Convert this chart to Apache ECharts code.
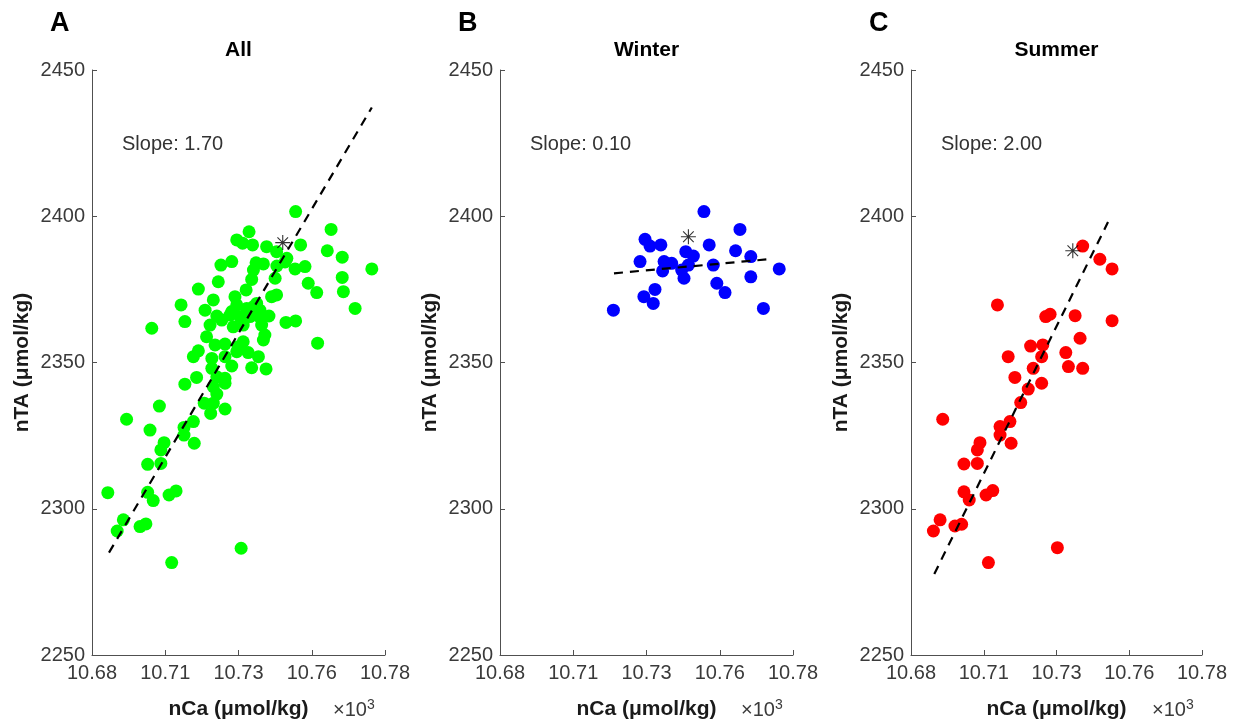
<!DOCTYPE html>
<html>
<head>
<meta charset="utf-8">
<script src="https://cdn.jsdelivr.net/npm/echarts@6/dist/echarts.min.js"></script>
<style>
html,body{margin:0;padding:0;background:#fff;}
#chart{width:1240px;height:724px;}
</style>
</head>
<body>
<div id="chart"></div>
<script>
// ---------- DATA ----------
const panelLetters = ['A', 'B', 'C'];
const panelTitles = ['All', 'Winter', 'Summer'];
const slopeLabels = ['Slope: 1.70', 'Slope: 0.10', 'Slope: 2.00'];
const xName = 'nCa (μmol/kg)';
const yName = 'nTA (μmol/kg)';
const xMin = 10680, xMax = 10780, xStep = 25;
const yMin = 2250, yMax = 2450, yStep = 50;

// Panel A: all samples [nCa, nTA]
const allPoints = [
  [10749.5,2401.6],[10761.6,2395.5],[10733.6,2394.7],[10729.4,2391.9],[10731.4,2390.8],
  [10734.8,2390.2],[10739.6,2389.6],[10743.0,2387.9],[10751.2,2390.2],[10760.3,2388.2],
  [10765.4,2386.0],[10775.5,2382.0],[10765.4,2379.1],[10765.8,2374.2],[10769.8,2368.5],
  [10757.0,2356.6],[10753.8,2377.1],[10756.7,2373.9],[10749.3,2382.0],[10752.7,2382.8],
  [10746.2,2363.7],[10749.5,2364.2],[10724.0,2383.3],[10727.7,2384.5],[10736.0,2384.1],
  [10738.5,2383.7],[10735.1,2381.6],[10734.5,2378.4],[10742.5,2378.8],[10723.1,2377.6],
  [10716.3,2375.1],[10732.6,2374.8],[10741.3,2372.5],[10743.0,2373.1],[10721.4,2371.4],
  [10710.4,2369.7],[10718.6,2367.9],[10728.8,2372.5],[10736.2,2370.2],[10729.4,2369.7],
  [10732.8,2368.5],[10722.6,2365.9],[10727.1,2366.2],[10730.5,2365.7],[10740.4,2365.9],
  [10737.3,2365.5],[10700.4,2361.7],[10711.7,2364.0],[10720.3,2362.8],[10724.3,2364.5],
  [10728.2,2362.2],[10737.9,2362.8],[10719.1,2358.8],[10731.6,2357.1],[10739.0,2359.4],
  [10738.5,2357.7],[10722.0,2356.0],[10725.4,2356.3],[10729.9,2355.4],[10716.3,2354.0],
  [10714.6,2352.0],[10720.9,2351.4],[10733.3,2353.4],[10736.8,2352.0],[10729.4,2353.7],
  [10725.4,2352.0],[10727.7,2348.8],[10734.5,2348.2],[10739.4,2347.8],[10720.9,2348.0],
  [10715.7,2344.9],[10722.6,2345.1],[10725.4,2344.6],[10711.7,2342.6],[10721.4,2341.7],
  [10725.4,2342.9],[10722.6,2339.2],[10718.3,2336.1],[10721.4,2336.1],[10720.5,2332.6],
  [10725.4,2334.1],[10703.0,2335.1],[10691.8,2330.6],[10699.8,2326.9],[10711.4,2327.8],
  [10714.6,2329.8],[10711.4,2325.2],[10714.9,2322.4],[10704.6,2322.6],[10703.5,2320.1],
  [10703.5,2315.5],[10699.0,2315.2],[10685.4,2305.5],[10699.0,2305.6],[10700.9,2302.8],
  [10706.3,2304.7],[10708.7,2306.1],[10690.7,2296.2],[10688.6,2292.4],[10696.4,2293.9],
  [10698.4,2294.8],[10730.9,2286.5],[10707.2,2281.6],[10743.1,2383.0],[10745.9,2384.4],
  [10727.7,2367.4],[10735.1,2369.1],[10737.3,2367.9],[10733.9,2365.7],[10731.6,2362.8],
  [10746.5,2385.6]
];

// Panel B: winter samples
const winterPoints = [
  [10749.6,2401.6],[10761.9,2395.5],[10729.5,2392.1],[10731.2,2389.8],[10734.9,2390.2],
  [10751.4,2390.2],[10760.4,2388.2],[10765.6,2386.2],[10743.4,2387.9],[10746.0,2386.4],
  [10727.8,2384.5],[10736.0,2384.5],[10738.6,2383.9],[10735.5,2381.3],[10742.0,2381.6],
  [10744.3,2383.3],[10752.8,2383.3],[10742.8,2378.8],[10775.3,2382.0],[10765.6,2379.3],
  [10754.0,2377.1],[10756.8,2373.9],[10732.9,2375.0],[10729.1,2372.5],[10732.3,2370.2],
  [10718.7,2367.9],[10769.9,2368.5]
];

// Panel C: summer samples
const summerPoints = [
  [10739.0,2389.8],[10744.9,2385.3],[10749.1,2382.0],[10709.7,2369.7],[10726.3,2365.7],
  [10727.8,2366.5],[10736.4,2366.0],[10749.1,2364.3],[10738.1,2358.3],[10721.1,2355.6],
  [10725.3,2356.0],[10713.4,2352.0],[10724.9,2352.0],[10733.2,2353.4],[10722.0,2348.0],
  [10734.1,2348.6],[10739.0,2348.0],[10715.7,2344.9],[10724.9,2342.9],[10720.3,2340.9],
  [10717.7,2336.3],[10690.9,2330.6],[10710.6,2328.1],[10714.0,2329.8],[10710.6,2325.2],
  [10714.4,2322.4],[10703.7,2322.6],[10702.8,2320.1],[10698.2,2315.3],[10702.8,2315.5],
  [10698.2,2305.8],[10700.0,2303.0],[10705.8,2304.7],[10708.1,2306.2],[10690.0,2296.2],
  [10687.7,2292.4],[10695.1,2294.1],[10697.4,2294.7],[10730.3,2286.7],[10706.6,2281.6]
];

// Regression line end points [nCa, nTA]
const fitAll = [[10685.8,2285.0],[10775.5,2437.2]];
const fitWinter = [[10718.9,2380.5],[10772.7,2385.4]];
const fitSummer = [[10688.0,2277.7],[10747.7,2398.0]];

// Mean markers (asterisks)
const starAll = [[10745.1,2391.0]];
const starWinter = [[10744.3,2393.0]];
const starSummer = [[10735.6,2388.2]];

// ---------- LAYOUT ----------
const FONT = '"Liberation Sans", Arial, Helvetica, sans-serif';
const grids = [
  {left: 92, top: 70, width: 293, height: 585},
  {left: 500, top: 70, width: 293, height: 585},
  {left: 911, top: 70, width: 291, height: 585}
];
const colors = ['#00ff00', '#0000ff', '#ff0000'];
const pointSets = [allPoints, winterPoints, summerPoints];
const fits = [fitAll, fitWinter, fitSummer];
const stars = [starAll, starWinter, starSummer];

const asterisk = 'path://M0,-10L0,10M-10,0L10,0M-7.07,-7.07L7.07,7.07M-7.07,7.07L7.07,-7.07';

const axisColor = '#505050';
const labelColor = '#3a3a3a';

const xAxes = grids.map((g, i) => ({
  type: 'value', gridIndex: i, min: xMin, max: xMax, interval: xStep,
  name: xName, nameLocation: 'middle', nameGap: 44,
  nameTextStyle: {fontFamily: FONT, fontSize: 21, fontWeight: 'bold', color: '#1a1a1a'},
  axisLine: {show: true, onZero: false, lineStyle: {color: axisColor, width: 1}},
  axisTick: {show: true, inside: true, length: 5, lineStyle: {color: axisColor}},
  axisLabel: {fontFamily: FONT, fontSize: 20, color: labelColor, margin: 8,
    showMinLabel: true, showMaxLabel: true,
    formatter: v => (Math.round(v / 10) / 100).toFixed(2)},
  splitLine: {show: false}
}));
const yAxes = grids.map((g, i) => ({
  type: 'value', gridIndex: i, min: yMin, max: yMax, interval: yStep,
  name: yName, nameLocation: 'middle', nameGap: 59, nameRotate: 90,
  nameTextStyle: {fontFamily: FONT, fontSize: 21, fontWeight: 'bold', color: '#1a1a1a'},
  axisLine: {show: true, onZero: false, lineStyle: {color: axisColor, width: 1}},
  axisTick: {show: true, inside: true, length: 5, lineStyle: {color: axisColor}},
  axisLabel: {fontFamily: FONT, fontSize: 20, color: labelColor, margin: 7,
    showMinLabel: true, showMaxLabel: true, formatter: v => String(v)},
  splitLine: {show: false}
}));

const series = [];
grids.forEach((g, i) => {
  series.push({
    type: 'scatter', xAxisIndex: i, yAxisIndex: i, data: pointSets[i],
    symbol: 'circle', symbolSize: 13, itemStyle: {color: colors[i], opacity: 1},
    z: 2, silent: true
  });
  series.push({
    type: 'line', xAxisIndex: i, yAxisIndex: i, data: fits[i], symbol: 'none',
    lineStyle: {color: '#000', width: 2.2, type: [9, 7]}, z: 3, silent: true
  });
  series.push({
    type: 'scatter', xAxisIndex: i, yAxisIndex: i, data: stars[i],
    symbol: asterisk, symbolSize: 15,
    itemStyle: {color: 'rgba(0,0,0,0)', borderColor: '#000', borderWidth: 1.1},
    z: 4, silent: true
  });
});

const graphics = [];
grids.forEach((g, i) => {
  const cx = g.left + g.width / 2;
  graphics.push({type: 'text', left: g.left - 42, top: 10,
    style: {text: panelLetters[i], font: 'bold 27px ' + FONT, fill: '#000'}});
  graphics.push({type: 'text', x: cx, y: 50,
    style: {text: panelTitles[i], font: 'bold 21px ' + FONT, fill: '#000',
      textAlign: 'center', textVerticalAlign: 'middle'}});
  graphics.push({type: 'text', x: g.left + 30, y: 144,
    style: {text: slopeLabels[i], font: '20px ' + FONT, fill: '#333',
      textAlign: 'left', textVerticalAlign: 'middle'}});
  graphics.push({type: 'text', x: g.left + 241, y: 710,
    style: {text: '×10{s|3}', font: '20px ' + FONT, fill: labelColor,
      textAlign: 'left', textVerticalAlign: 'middle',
      rich: {s: {fontSize: 14, fontFamily: FONT, fill: labelColor, verticalAlign: 'top', padding: [0,0,10,0]}}}});
});

const chart = echarts.init(document.getElementById('chart'), null, {renderer: 'canvas'});
chart.setOption({
  backgroundColor: '#ffffff',
  animation: false,
  grid: grids.map(g => Object.assign({containLabel: false, outerBoundsMode: 'none'}, g)),
  xAxis: xAxes,
  yAxis: yAxes,
  series: series,
  graphic: graphics
});
</script>
</body>
</html>
